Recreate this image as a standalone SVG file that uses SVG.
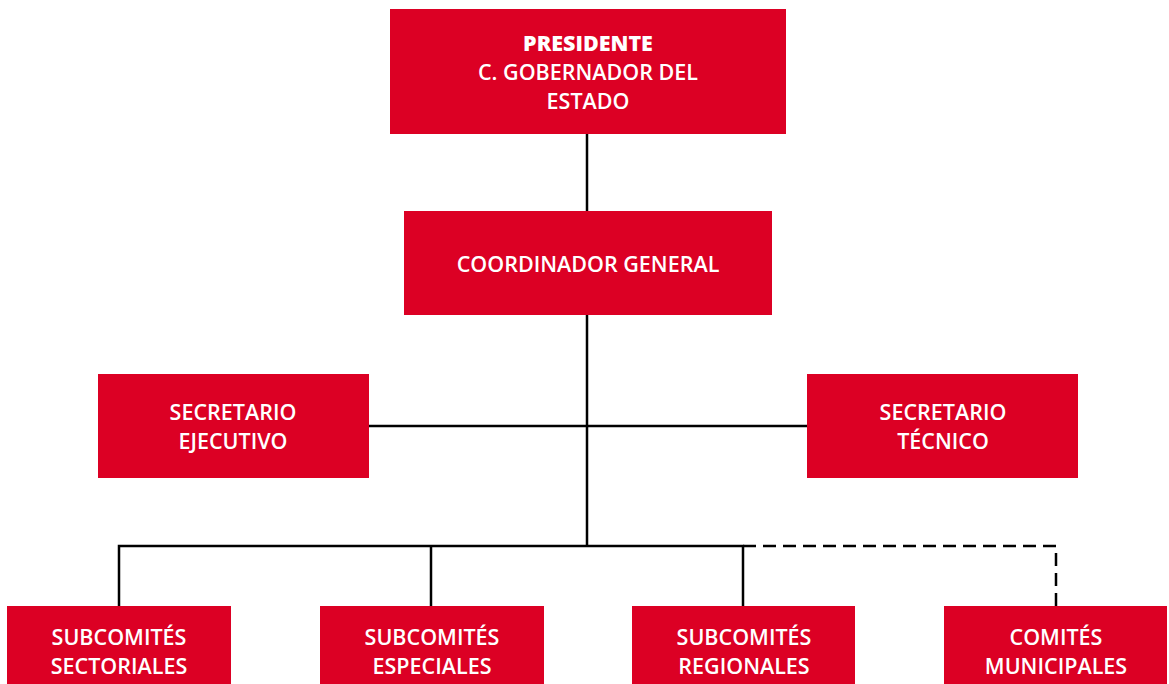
<svg xmlns="http://www.w3.org/2000/svg" width="1169" height="684" viewBox="0 0 1169 684">
<style>
.box{fill:#DC0024}
.t{font-family:"Open Sans","Liberation Sans",sans-serif;font-weight:600;font-size:21.5px;fill:#fff;text-anchor:middle}
.b{font-weight:800}
.ln{stroke:#000;stroke-width:2.5;fill:none}
.dash{stroke:#000;stroke-width:2.5;fill:none;stroke-dasharray:13,7}
</style>
<rect width="1169" height="684" fill="#fff"/>
<g id="connectors">
<path class="ln" d="M587 134V546"/>
<path class="ln" d="M369 426H807"/>
<path class="ln" d="M119 606V546H743V606"/>
<path class="ln" d="M431 546V606"/>
<path class="dash" d="M743 546H1056V606"/>
</g>
<g id="presidente">
<rect class="box" x="390" y="9" width="396" height="125"/>
<text class="t" x="588" y="51"><tspan class="b">PRESIDENTE</tspan><tspan x="588" y="80">C. GOBERNADOR DEL</tspan><tspan x="588" y="109">ESTADO</tspan></text>
</g>
<g id="coordinador">
<rect class="box" x="404" y="211" width="368" height="104"/>
<text class="t" x="588" y="272">COORDINADOR GENERAL</text>
</g>
<g id="sec-ejecutivo">
<rect class="box" x="98" y="374" width="271" height="104"/>
<text class="t" x="233" y="420">SECRETARIO<tspan x="233" y="449">EJECUTIVO</tspan></text>
</g>
<g id="sec-tecnico">
<rect class="box" x="807" y="374" width="271" height="104"/>
<text class="t" x="943" y="420">SECRETARIO<tspan x="943" y="449">TÉCNICO</tspan></text>
</g>
<g id="sub-sectoriales">
<rect class="box" x="7" y="606" width="224" height="78"/>
<text class="t" x="119" y="645">SUBCOMITÉS<tspan x="119" y="674">SECTORIALES</tspan></text>
</g>
<g id="sub-especiales">
<rect class="box" x="320" y="606" width="224" height="78"/>
<text class="t" x="432" y="645">SUBCOMITÉS<tspan x="432" y="674">ESPECIALES</tspan></text>
</g>
<g id="sub-regionales">
<rect class="box" x="632" y="606" width="223" height="78"/>
<text class="t" x="744" y="645">SUBCOMITÉS<tspan x="744" y="674">REGIONALES</tspan></text>
</g>
<g id="com-municipales">
<rect class="box" x="944" y="606" width="223" height="78"/>
<text class="t" x="1056" y="645">COMITÉS<tspan x="1056" y="674">MUNICIPALES</tspan></text>
</g>
</svg>
